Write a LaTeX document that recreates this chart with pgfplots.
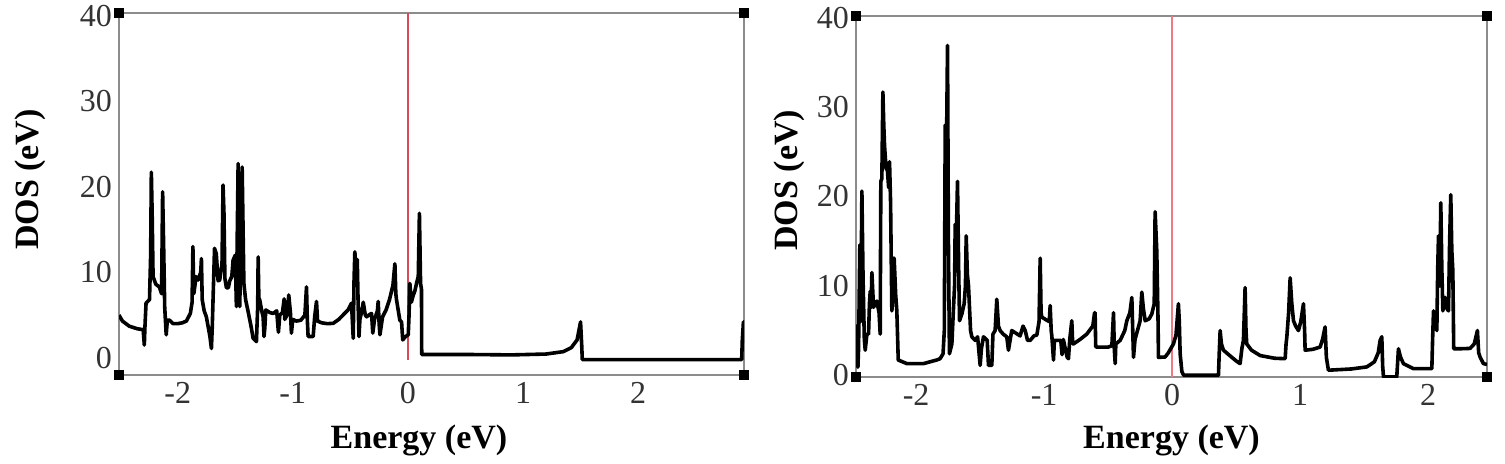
\documentclass[border=0pt]{standalone}
\usepackage{fontspec}
\setmainfont{Liberation Serif}
\usepackage{pgfplots}
\pgfplotsset{compat=1.18}

\definecolor{boxgray}{RGB}{140,140,140}
\definecolor{fermiL}{RGB}{215,75,90}
\definecolor{fermiR}{RGB}{240,120,135}

\pgfplotsset{
  dosax/.style={
    scale only axis,
    anchor=south west,
    axis line style={boxgray, line width=0.9pt},
    major tick length=0pt,
    xtick={-2,-1,0,1,2},
    ytick={0,10,20,30,40},
    /pgf/number format/assume math mode=true,
    tick label style={font=\fontsize{16}{18}\selectfont, text=black!80},
    label style={font=\fontsize{17}{20}\selectfont\bfseries},
    xlabel={Energy (eV)},
    ylabel={DOS (eV)},
  },
  dosline/.style={black, line width=1.8pt, line join=round, sharp plot},
}

\begin{document}
\begin{tikzpicture}
\useasboundingbox (0,0) rectangle (752.5pt,231.5pt);

% left panel
\begin{axis}[dosax, name=L,
  at={(59.5pt,44pt)}, width=312.5pt, height=181pt,
  xmin=-2.51, xmax=2.92, ymin=-2, ymax=40.3,
  xlabel style={at={(axis description cs:0.48,-0.18)}, anchor=center},
  ylabel style={at={(axis description cs:-0.142,0.54)}, anchor=center},
]
\addplot[fermiL, line width=0.9pt] coordinates {(0,-0.2) (0,40.3)};
\addplot[dosline] coordinates {
(-2.51,5.0) (-2.48,4.3) (-2.42,3.7) (-2.35,3.4) (-2.30,3.3) (-2.29,1.5) (-2.285,3.5)
(-2.275,6.4) (-2.245,6.8) (-2.235,12) (-2.229,21.7) (-2.222,16.9) (-2.214,9.5)
(-2.19,8.6) (-2.16,8.3) (-2.14,7.5) (-2.131,19.4) (-2.122,13) (-2.113,6) (-2.10,2.7)
(-2.09,4.4) (-2.07,4.4) (-2.04,4.0) (-2.0,4.0) (-1.96,4.1) (-1.925,4.3) (-1.89,5.2)
(-1.875,6.5) (-1.868,13) (-1.86,7.5) (-1.85,8.5) (-1.84,9.5) (-1.823,9.1) (-1.80,10)
(-1.794,11.6) (-1.787,6.8) (-1.77,5.5) (-1.751,4.8) (-1.72,2.5) (-1.707,1.1) (-1.70,3.5)
(-1.693,6.8) (-1.68,12.8) (-1.665,12.2) (-1.649,9.0) (-1.635,9.1) (-1.615,11)
(-1.606,20.2) (-1.598,16.9) (-1.59,9.3) (-1.577,8.2) (-1.56,8.2) (-1.548,9) (-1.53,9.5)
(-1.519,11.4) (-1.50,12) (-1.49,6.0) (-1.482,15) (-1.475,22.7) (-1.468,12) (-1.461,6.0)
(-1.45,14) (-1.44,22.3) (-1.432,15) (-1.425,8.7) (-1.41,6.8) (-1.388,5.4) (-1.36,3.5)
(-1.345,2.3) (-1.316,1.9) (-1.305,6) (-1.301,11.8) (-1.295,7.0) (-1.287,6.76)
(-1.27,5.5) (-1.258,4.8) (-1.25,2.5) (-1.243,3.5) (-1.235,5.6) (-1.20,5.3) (-1.17,5.2)
(-1.14,5.5) (-1.125,3.0) (-1.113,5.0) (-1.09,5.3) (-1.075,6.9) (-1.07,4.5) (-1.05,5.0)
(-1.035,7.35) (-1.02,5.2) (-1.012,2.9) (-1.0,4.5) (-0.97,4.3) (-0.93,4.4) (-0.895,5.0)
(-0.881,8.3) (-0.874,4.5) (-0.867,2.5) (-0.823,2.5) (-0.81,4.8) (-0.794,6.6)
(-0.785,4.3) (-0.75,4.1) (-0.70,4.0) (-0.649,4.04) (-0.60,4.5) (-0.55,5.2) (-0.52,5.6)
(-0.49,6.4) (-0.475,2.3) (-0.468,9) (-0.461,12.4) (-0.45,10) (-0.44,11.5) (-0.432,6)
(-0.425,2.5) (-0.417,4.5) (-0.40,5.5) (-0.388,6.5) (-0.37,5.0) (-0.359,4.8) (-0.34,5.0)
(-0.316,5.2) (-0.305,2.9) (-0.29,4.5) (-0.265,5.5) (-0.258,6.6) (-0.25,4) (-0.243,2.7)
(-0.22,4.8) (-0.19,5.6) (-0.16,6.8) (-0.13,8.5) (-0.113,11.0) (-0.105,7.5) (-0.099,6.8)
(-0.07,4.4) (-0.055,4.2) (-0.045,2.1) (-0.02,2.5) (0.003,2.7) (0.01,5) (0.017,8.7)
(0.03,6.5) (0.046,7.3) (0.06,7.8) (0.075,8.7) (0.09,9.5) (0.10,16.9) (0.11,8.7)
(0.118,8) (0.12,0.4) (0.5,0.4) (0.9,0.35) (1.2,0.45) (1.35,0.73) (1.42,1.2) (1.47,2.1)
(1.50,4.2) (1.51,1.5) (1.515,-0.2) (2.0,-0.2) (2.90,-0.2) (2.905,2) (2.915,4.2) (2.93,4.2)
};
\end{axis}
\foreach \c in {south west,south east,north west,north east}
  \fill[black] (L.\c) ++(-2.5pt,-2.5pt) rectangle ++(5pt,5pt);

% right panel
\begin{axis}[dosax, name=R,
  at={(428pt,43pt)}, width=315.5pt, height=180.5pt,
  xmin=-2.47, xmax=2.46, ymin=-0.2, ymax=40.2,
  xlabel style={at={(axis description cs:0.5,-0.175)}, anchor=center},
  ylabel style={at={(axis description cs:-0.105,0.545)}, anchor=center},
]
\addplot[fermiR, line width=0.9pt] coordinates {(0,-0.2) (0,40.2)};
\addplot[dosline] coordinates {
(-2.465,5.7) (-2.455,0.9) (-2.45,3) (-2.44,14.6) (-2.433,6) (-2.424,20.6) (-2.415,10.9)
(-2.405,4) (-2.398,2.8) (-2.385,4.6) (-2.372,4.6) (-2.365,8) (-2.359,9.4) (-2.352,7.6)
(-2.346,11.5) (-2.333,7.6) (-2.307,8.3) (-2.29,7) (-2.281,4.6) (-2.278,15) (-2.276,21.7)
(-2.268,22) (-2.26,31.7) (-2.253,28) (-2.247,25.7) (-2.235,23.1) (-2.225,23) (-2.215,21)
(-2.208,23.9) (-2.20,19.4) (-2.19,7.2) (-2.18,9) (-2.172,13.1) (-2.16,9) (-2.151,7.2)
(-2.14,1.7) (-2.073,1.3) (-1.943,1.3) (-1.84,1.7) (-1.813,1.85) (-1.79,2.4) (-1.78,5)
(-1.773,28) (-1.762,27) (-1.755,36.9) (-1.748,15) (-1.74,2.4) (-1.721,3.5) (-1.71,7)
(-1.70,10) (-1.695,16.9) (-1.687,15) (-1.677,21.7) (-1.668,12) (-1.661,6.1) (-1.643,6.85)
(-1.625,8) (-1.615,10) (-1.609,15.6) (-1.60,11.3) (-1.591,10) (-1.575,5) (-1.565,4.3)
(-1.539,3.9) (-1.52,4.3) (-1.50,1.1) (-1.49,3) (-1.474,4.3) (-1.445,3.9) (-1.435,1.1)
(-1.409,1.1) (-1.40,4.6) (-1.383,5) (-1.37,8.5) (-1.357,5.5) (-1.344,5) (-1.32,4.6)
(-1.292,4.3) (-1.279,2.8) (-1.265,4) (-1.253,5.0) (-1.22,4.7) (-1.188,4.4) (-1.165,5.5)
(-1.148,5.0) (-1.13,3.9) (-1.109,3.9) (-1.08,4.4) (-1.057,4.5) (-1.04,6.0) (-1.031,13.1)
(-1.024,7) (-1.018,6.5) (-0.985,6.2) (-0.96,6) (-0.953,7.8) (-0.945,5) (-0.94,4.4)
(-0.927,1.7) (-0.92,3.9) (-0.901,3.9) (-0.87,3.9) (-0.86,2.3) (-0.85,4) (-0.84,3.3)
(-0.82,2) (-0.81,1.85) (-0.80,4) (-0.784,6.1) (-0.777,3.5) (-0.771,3.5) (-0.72,4.0)
(-0.667,4.6) (-0.62,5.5) (-0.606,7.0) (-0.602,7.0) (-0.597,3.2) (-0.589,3.15)
(-0.50,3.15) (-0.471,3.3) (-0.458,7.0) (-0.452,3) (-0.445,1.3) (-0.44,3.5) (-0.406,3.9)
(-0.37,5) (-0.354,6.1) (-0.33,7) (-0.315,8.7) (-0.302,2.0) (-0.29,4) (-0.25,6.1)
(-0.237,9.3) (-0.225,7.5) (-0.211,6.1) (-0.18,6.3) (-0.159,6.85) (-0.14,8) (-0.133,18.3)
(-0.12,13.9) (-0.11,6) (-0.107,2.0) (-0.055,2.04) (-0.03,2.5) (0.01,3.5) (0.03,4.5)
(0.049,8.0) (0.056,6) (0.0625,2.4) (0.076,0.4) (0.09,0.0) (0.362,0.0) (0.368,2.5)
(0.375,5.0) (0.385,3.5) (0.401,2.8) (0.45,2.2) (0.50,1.6) (0.531,1.3) (0.545,3)
(0.557,3.9) (0.570,9.8) (0.577,5) (0.583,3.5) (0.62,2.8) (0.688,2.2) (0.80,1.9)
(0.883,1.85) (0.89,3.5) (0.896,4.26) (0.91,7) (0.922,10.9) (0.935,8) (0.948,6.1)
(0.965,5.5) (0.987,5.0) (1.005,6) (1.026,8.0) (1.035,5) (1.039,2.8) (1.10,2.9)
(1.156,3.15) (1.175,4) (1.195,5.4) (1.205,2) (1.221,0.56) (1.40,0.7) (1.521,0.93)
(1.58,1.5) (1.61,2.5) (1.625,3.9) (1.638,4.3) (1.645,1) (1.651,-0.19) (1.755,-0.19)
(1.762,1.5) (1.768,2.96) (1.785,2) (1.807,1.3) (1.885,0.74) (2.0,0.74) (2.029,0.74)
(2.035,4) (2.042,7.2) (2.055,6) (2.068,5.0) (2.075,12) (2.081,15.6) (2.09,10)
(2.099,19.3) (2.107,12) (2.115,7.2) (2.125,8) (2.133,8.7) (2.145,7.5) (2.159,7.2)
(2.168,15) (2.177,20.2) (2.185,14) (2.193,11.7) (2.20,2.96) (2.25,2.96) (2.328,3.0)
(2.36,3.5) (2.367,3.9) (2.385,5.0) (2.395,2.5) (2.406,2.04) (2.432,1.3) (2.46,1.2)
};
\end{axis}
\foreach \c in {south west,south east,north west,north east}
  \fill[black] (R.\c) ++(-2.5pt,-2.5pt) rectangle ++(5pt,5pt);
\end{tikzpicture}
\end{document}
